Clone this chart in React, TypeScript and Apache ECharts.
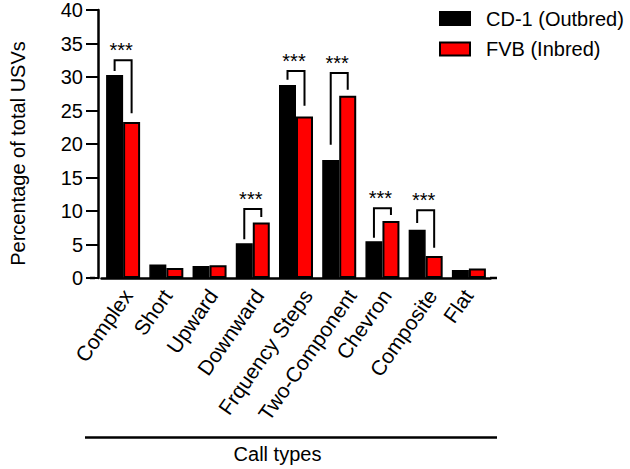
import React, { useEffect, useRef } from "react";
import * as echarts from "echarts";

const categories = [
  "Complex",
  "Short",
  "Upward",
  "Downward",
  "Frquency Steps",
  "Two-Component",
  "Chevron",
  "Composite",
  "Flat",
];
const cd1Values = [30.3, 2.0, 1.8, 5.2, 28.8, 17.6, 5.5, 7.2, 1.2];
const fvbValues = [23.3, 1.5, 1.9, 8.3, 24.1, 27.2, 8.5, 3.3, 1.4];
const yTicks = { min: 0, max: 40, interval: 5 };
// significance brackets
const sigIndex = [0, 3, 4, 5, 6, 7];
const sigLeftBottom = [30.9, 5.8, 29.6, 19.9, 6.0, 8.2];
const sigRightBottom = [24.6, 9.1, 25.7, 28.1, 9.4, 4.5];
const sigTop = [32.5, 10.3, 30.9, 30.6, 10.4, 10.1];
const sigLabel = "***";

const FONT = "Liberation Sans, Arial, sans-serif";
const BAR_W = 17;
const LABEL_SIZE = 21;
const LABEL_ROT = 55;

function textWidth(t: string, size: number) {
  const c = document.createElement("canvas").getContext("2d");
  if (!c) return t.length * size * 0.5;
  c.font = `${size}px "Liberation Sans", Arial, sans-serif`;
  return c.measureText(t).width;
}

export default function App() {
  const ref = useRef<HTMLDivElement>(null);
  useEffect(() => {
    if (!ref.current) return;
    const chart = echarts.init(ref.current, undefined, { renderer: "svg" });
    const sigData = sigIndex.map((ci, k) => [ci, sigLeftBottom[k], sigRightBottom[k], sigTop[k]]);
    const rot = (LABEL_ROT * Math.PI) / 180;
    chart.setOption({
      animation: false,
      textStyle: { fontFamily: FONT, color: "#000" },
      grid: { left: 94.5, top: 10, width: 396, height: 268 },
      legend: {
        data: ["CD-1 (Outbred)", "FVB (Inbred)"],
        orient: "vertical",
        left: 439,
        top: 8.5,
        padding: 0,
        itemWidth: 30,
        itemHeight: 13,
        itemGap: 10.5,
        icon: "rect",
        textStyle: { fontFamily: FONT, fontSize: 20, color: "#000", padding: [0, 0, 0, 11] },
      },
      xAxis: {
        type: "category",
        data: categories,
        axisLine: { lineStyle: { color: "#000", width: 2.5 } },
        axisTick: { show: false },
        axisLabel: { show: false },
      },
      yAxis: {
        type: "value",
        min: yTicks.min,
        max: yTicks.max,
        interval: yTicks.interval,
        offset: 3.5,
        name: "Percentage of total USVs",
        nameLocation: "middle",
        nameGap: 70,
        nameTextStyle: { fontFamily: FONT, fontSize: 20, color: "#000", padding: [0, 19, 0, 0] },
        axisLine: { show: true, lineStyle: { color: "#000", width: 2.5 } },
        axisTick: { show: true, length: 12, lineStyle: { color: "#000", width: 2 } },
        axisLabel: { margin: 15, fontFamily: FONT, fontSize: 20, color: "#000" },
        splitLine: { show: false },
      },
      series: [
        { name: "CD-1 (Outbred)", type: "bar", data: cd1Values, barWidth: BAR_W, barGap: "0%",
          itemStyle: { color: "#000", borderColor: "#000", borderWidth: 1.5 } },
        { name: "FVB (Inbred)", type: "bar", data: fvbValues, barWidth: BAR_W, barGap: "0%",
          itemStyle: { color: "#ff0000", borderColor: "#000", borderWidth: 2 } },
        {
          name: "sig", type: "custom", data: sigData, encode: { x: 0, y: 3 }, z: 5,
          renderItem: (params: any, api: any) => {
            const ci = api.value(0);
            const pTop = api.coord([ci, api.value(3)]);
            const pL = api.coord([ci, api.value(1)]);
            const pR = api.coord([ci, api.value(2)]);
            const xl = pTop[0] - BAR_W / 2;
            const xr = pTop[0] + BAR_W / 2;
            return { type: "group", children: [
              { type: "polyline", shape: { points: [[xl, pL[1]], [xl, pTop[1]], [xr, pTop[1]], [xr, pR[1]]] },
                style: { stroke: "#000", lineWidth: 2, fill: "none" } },
              { type: "text", style: { text: sigLabel, x: pTop[0] - 2, y: pTop[1] - 10, align: "center", verticalAlign: "middle",
                  fontFamily: FONT, fontSize: 20, fill: "#000" } },
            ] };
          },
        },
        {
          name: "categoryLabels", type: "custom", silent: true, clip: false,
          data: categories.map((_, i) => [i, 0]),
          encode: { x: 0, y: 1 },
          renderItem: (params: any, api: any) => {
            const i = api.value(0);
            const p = api.coord([i, 0]);
            const txt = categories[i];
            const w = textWidth(txt, LABEL_SIZE);
            return {
              type: "text",
              x: p[0] - 4.6 + 0.11 * w,
              y: p[1] + 13.7,
              rotation: rot,
              style: { text: txt, align: "right", verticalAlign: "middle", fontFamily: FONT, fontSize: LABEL_SIZE, fill: "#000" },
            };
          },
        },
      ],
      graphic: [
        { type: "line", shape: { x1: 90, y1: 278, x2: 95, y2: 278 }, style: { stroke: "#000", lineWidth: 2.5 } },
        { type: "line", shape: { x1: 490, y1: 278, x2: 497, y2: 278 }, style: { stroke: "#000", lineWidth: 2.5 } },
        { type: "line", shape: { x1: 85, y1: 437.5, x2: 497, y2: 437.5 }, style: { stroke: "#000", lineWidth: 2.5 } },
        { type: "text", x: 277.5, y: 454,
          style: { text: "Call types", align: "center", verticalAlign: "middle", fontFamily: FONT, fontSize: 20, fill: "#000" } },
      ],
    });
    return () => chart.dispose();
  }, []);
  return <div ref={ref} style={{ position: "absolute", left: 0, top: 0, width: 630, height: 469 }} />;
}
